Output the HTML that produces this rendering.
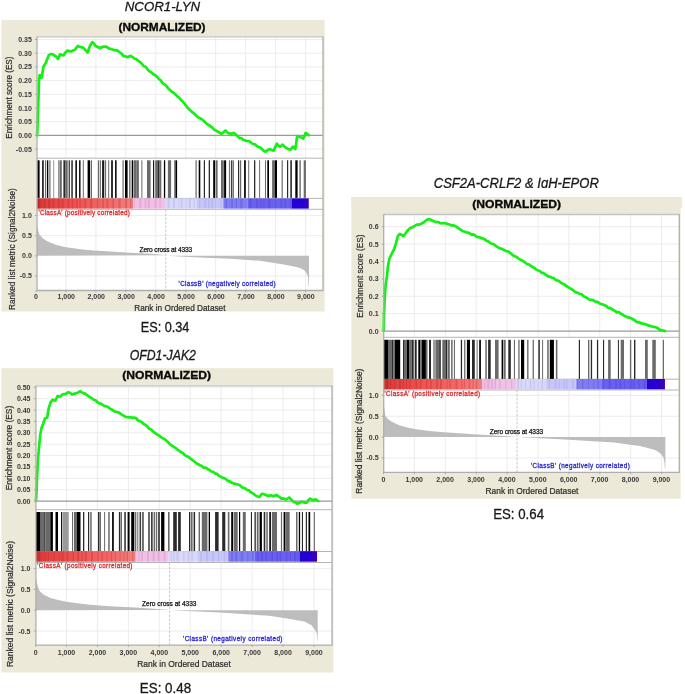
<!DOCTYPE html>
<html><head><meta charset="utf-8"><title>GSEA enrichment plots</title>
<style>
html,body{margin:0;padding:0;background:#fff;width:685px;height:694px;overflow:hidden}
svg{display:block;filter:blur(0.35px)}
</style></head><body>
<svg width="685" height="694" viewBox="0 0 685 694" font-family='"Liberation Sans", sans-serif'>
<defs><linearGradient id="redgrad" x1="0" x2="1" y1="0" y2="0"><stop offset="0" stop-color="#C8302C"/><stop offset="0.08" stop-color="#E0403E"/><stop offset="0.4" stop-color="#EE5452"/><stop offset="0.75" stop-color="#F26866"/><stop offset="1" stop-color="#F08080"/></linearGradient><clipPath id="tclip"><rect x="340" y="170" width="300" height="17.9"/></clipPath></defs>
<rect width="685" height="694" fill="#fff"/>
<rect x="1.5" y="20" width="323.1" height="291.5" fill="#ECE9D8"/>
<rect x="36.7" y="36.6" width="286.3" height="253.9" fill="#fff"/>
<path d="M36.7 149.1H323 M36.7 121.7H323 M36.7 108H323 M36.7 94.3H323 M36.7 80.6H323 M36.7 66.9H323 M36.7 53.2H323 M36.7 39.5H323 M36.7 215.6H323 M36.7 235.7H323 M36.7 275.9H323 M65.95 36.6V158.2 M65.95 209.3V290.5 M95.9 36.6V158.2 M95.9 209.3V290.5 M125.85 36.6V158.2 M125.85 209.3V290.5 M155.8 36.6V158.2 M155.8 209.3V290.5 M185.75 36.6V158.2 M185.75 209.3V290.5 M215.7 36.6V158.2 M215.7 209.3V290.5 M245.65 36.6V158.2 M245.65 209.3V290.5 M275.6 36.6V158.2 M275.6 209.3V290.5 M305.55 36.6V158.2 M305.55 209.3V290.5" stroke="#EAEAEA" stroke-width="0.9" fill="none"/>
<path d="M36.7 135.4H323" stroke="#9a9a9a" stroke-width="1.1"/>
<path d="M36.7 158.2H323 M36.7 198.4H323 M36.7 209.3H323" stroke="#b4b4b4" stroke-width="1"/>
<g><rect x="37.2" y="160.3" width="2.4" height="37.6" fill="#000"/><rect x="42.2" y="160.3" width="1.5" height="37.6" fill="#000"/><rect x="45" y="160.3" width="1.2" height="37.6" fill="#6a6a6a"/><rect x="47" y="160.3" width="1.3" height="37.6" fill="#000"/><rect x="49.3" y="160.3" width="1.2" height="37.6" fill="#6a6a6a"/><rect x="53.2" y="160.3" width="1" height="37.6" fill="#9a9a9a"/><rect x="58.3" y="160.3" width="1.2" height="37.6" fill="#6a6a6a"/><rect x="59.8" y="160.3" width="2" height="37.6" fill="#6a6a6a"/><rect x="63.4" y="160.3" width="2.1" height="37.6" fill="#2a2a2a"/><rect x="65.5" y="160.3" width="2.2" height="37.6" fill="#6a6a6a"/><rect x="68.7" y="160.3" width="1" height="37.6" fill="#000"/><rect x="71.3" y="160.3" width="1.5" height="37.6" fill="#2a2a2a"/><rect x="75.4" y="160.3" width="1.5" height="37.6" fill="#000"/><rect x="79.1" y="160.3" width="1.4" height="37.6" fill="#000"/><rect x="82.8" y="160.3" width="1" height="37.6" fill="#6a6a6a"/><rect x="87.6" y="160.3" width="2.6" height="37.6" fill="#000"/><rect x="91" y="160.3" width="1" height="37.6" fill="#6a6a6a"/><rect x="97.8" y="160.3" width="1.4" height="37.6" fill="#6a6a6a"/><rect x="99.9" y="160.3" width="1" height="37.6" fill="#6a6a6a"/><rect x="102.2" y="160.3" width="1.7" height="37.6" fill="#000"/><rect x="104.6" y="160.3" width="1.5" height="37.6" fill="#6a6a6a"/><rect x="108.2" y="160.3" width="1" height="37.6" fill="#6a6a6a"/><rect x="111.2" y="160.3" width="1.6" height="37.6" fill="#000"/><rect x="115.1" y="160.3" width="1.5" height="37.6" fill="#000"/><rect x="122.5" y="160.3" width="1.2" height="37.6" fill="#6a6a6a"/><rect x="125" y="160.3" width="2.6" height="37.6" fill="#000"/><rect x="129.1" y="160.3" width="1.4" height="37.6" fill="#6a6a6a"/><rect x="131.7" y="160.3" width="1.5" height="37.6" fill="#000"/><rect x="133.7" y="160.3" width="3.1" height="37.6" fill="#6a6a6a"/><rect x="137.3" y="160.3" width="1.3" height="37.6" fill="#2a2a2a"/><rect x="141.4" y="160.3" width="1" height="37.6" fill="#6a6a6a"/><rect x="147" y="160.3" width="3.6" height="37.6" fill="#6a6a6a"/><rect x="153.1" y="160.3" width="1.1" height="37.6" fill="#000"/><rect x="155.2" y="160.3" width="2.3" height="37.6" fill="#6a6a6a"/><rect x="157.5" y="160.3" width="2" height="37.6" fill="#2a2a2a"/><rect x="159.5" y="160.3" width="1.8" height="37.6" fill="#6a6a6a"/><rect x="163.9" y="160.3" width="1.3" height="37.6" fill="#000"/><rect x="167.9" y="160.3" width="3.2" height="37.6" fill="#6a6a6a"/><rect x="174.2" y="160.3" width="1" height="37.6" fill="#6a6a6a"/><rect x="175.4" y="160.3" width="1.7" height="37.6" fill="#000"/><rect x="195.5" y="160.3" width="1.2" height="37.6" fill="#6a6a6a"/><rect x="198.7" y="160.3" width="1.6" height="37.6" fill="#000"/><rect x="203.8" y="160.3" width="1.2" height="37.6" fill="#2a2a2a"/><rect x="208.7" y="160.3" width="1.3" height="37.6" fill="#2a2a2a"/><rect x="213.2" y="160.3" width="1.9" height="37.6" fill="#000"/><rect x="215.6" y="160.3" width="2" height="37.6" fill="#6a6a6a"/><rect x="221" y="160.3" width="2.8" height="37.6" fill="#6a6a6a"/><rect x="224.1" y="160.3" width="2" height="37.6" fill="#000"/><rect x="228.9" y="160.3" width="1" height="37.6" fill="#6a6a6a"/><rect x="230.9" y="160.3" width="1" height="37.6" fill="#2a2a2a"/><rect x="232.4" y="160.3" width="1.5" height="37.6" fill="#6a6a6a"/><rect x="238" y="160.3" width="1.2" height="37.6" fill="#2a2a2a"/><rect x="240" y="160.3" width="1.2" height="37.6" fill="#6a6a6a"/><rect x="244.1" y="160.3" width="1.7" height="37.6" fill="#000"/><rect x="248.2" y="160.3" width="1" height="37.6" fill="#6a6a6a"/><rect x="254" y="160.3" width="1.3" height="37.6" fill="#2a2a2a"/><rect x="259.1" y="160.3" width="1" height="37.6" fill="#6a6a6a"/><rect x="265" y="160.3" width="1" height="37.6" fill="#6a6a6a"/><rect x="267.3" y="160.3" width="1.7" height="37.6" fill="#000"/><rect x="272.1" y="160.3" width="2.9" height="37.6" fill="#6a6a6a"/><rect x="275" y="160.3" width="2" height="37.6" fill="#000"/><rect x="281.6" y="160.3" width="1.2" height="37.6" fill="#6a6a6a"/><rect x="287" y="160.3" width="1.2" height="37.6" fill="#2a2a2a"/><rect x="290.3" y="160.3" width="1.6" height="37.6" fill="#2a2a2a"/><rect x="295.3" y="160.3" width="2.3" height="37.6" fill="#000"/><rect x="299.4" y="160.3" width="1.4" height="37.6" fill="#6a6a6a"/><rect x="303.7" y="160.3" width="2.2" height="37.6" fill="#6a6a6a"/></g>
<rect x="37" y="198.4" width="96.05" height="10.2" fill="url(#redgrad)"/>
<rect x="133" y="198.4" width="32.05" height="10.2" fill="#F0C0E6"/>
<rect x="165" y="198.4" width="31.55" height="10.2" fill="#D8D8FA"/>
<rect x="196.5" y="198.4" width="26.85" height="10.2" fill="#C6C6F8"/>
<rect x="223.3" y="198.4" width="24.15" height="10.2" fill="#7E7EF2"/>
<rect x="247.4" y="198.4" width="44.15" height="10.2" fill="#6A60F0"/>
<rect x="291.5" y="198.4" width="13.55" height="10.2" fill="#2400D4"/>
<rect x="305" y="198.4" width="3.75" height="10.2" fill="#3A00BC"/>
<rect x="37.81" y="198.4" width="1.96" height="10.2" fill="rgba(150,10,10,0.2)"/><rect x="43.97" y="198.4" width="1.63" height="10.2" fill="rgba(150,10,10,0.2)"/><rect x="48.07" y="198.4" width="2.08" height="10.2" fill="rgba(150,10,10,0.2)"/><rect x="52.65" y="198.4" width="1.65" height="10.2" fill="rgba(150,10,10,0.2)"/><rect x="57.83" y="198.4" width="2.12" height="10.2" fill="rgba(150,10,10,0.2)"/><rect x="61.49" y="198.4" width="2.18" height="10.2" fill="rgba(150,10,10,0.2)"/><rect x="67.52" y="198.4" width="1.64" height="10.2" fill="rgba(150,10,10,0.2)"/><rect x="71.69" y="198.4" width="1.57" height="10.2" fill="rgba(150,10,10,0.2)"/><rect x="75.89" y="198.4" width="1.82" height="10.2" fill="rgba(150,10,10,0.2)"/><rect x="79.44" y="198.4" width="1.33" height="10.2" fill="rgba(150,10,10,0.2)"/><rect x="84.24" y="198.4" width="2.04" height="10.2" fill="rgba(150,10,10,0.2)"/><rect x="90.18" y="198.4" width="2.07" height="10.2" fill="rgba(150,10,10,0.2)"/><rect x="96.98" y="198.4" width="1.17" height="10.2" fill="rgba(150,10,10,0.2)"/><rect x="102.48" y="198.4" width="1.31" height="10.2" fill="rgba(150,10,10,0.2)"/><rect x="106.59" y="198.4" width="1.55" height="10.2" fill="rgba(150,10,10,0.2)"/><rect x="112.32" y="198.4" width="1.72" height="10.2" fill="rgba(150,10,10,0.2)"/><rect x="118.54" y="198.4" width="2.08" height="10.2" fill="rgba(150,10,10,0.2)"/><rect x="125.02" y="198.4" width="2.14" height="10.2" fill="rgba(150,10,10,0.2)"/><rect x="129.93" y="198.4" width="1.5" height="10.2" fill="rgba(150,10,10,0.2)"/><rect x="133.79" y="198.4" width="0.93" height="10.2" fill="rgba(190,60,140,0.18)"/><rect x="139.29" y="198.4" width="2.14" height="10.2" fill="rgba(190,60,140,0.18)"/><rect x="144.77" y="198.4" width="1.56" height="10.2" fill="rgba(190,60,140,0.18)"/><rect x="147.88" y="198.4" width="2.07" height="10.2" fill="rgba(190,60,140,0.18)"/><rect x="154.55" y="198.4" width="2.08" height="10.2" fill="rgba(190,60,140,0.18)"/><rect x="159.45" y="198.4" width="1.18" height="10.2" fill="rgba(190,60,140,0.18)"/><rect x="167.62" y="198.4" width="2.09" height="10.2" fill="rgba(90,90,200,0.14)"/><rect x="172.95" y="198.4" width="1.98" height="10.2" fill="rgba(90,90,200,0.14)"/><rect x="178.45" y="198.4" width="0.82" height="10.2" fill="rgba(90,90,200,0.14)"/><rect x="180.81" y="198.4" width="1.74" height="10.2" fill="rgba(90,90,200,0.14)"/><rect x="185.85" y="198.4" width="0.89" height="10.2" fill="rgba(90,90,200,0.14)"/><rect x="188.87" y="198.4" width="1.99" height="10.2" fill="rgba(90,90,200,0.14)"/><rect x="193.58" y="198.4" width="1.06" height="10.2" fill="rgba(90,90,200,0.14)"/><rect x="199.14" y="198.4" width="1.08" height="10.2" fill="rgba(90,90,200,0.14)"/><rect x="204.39" y="198.4" width="1.88" height="10.2" fill="rgba(90,90,200,0.14)"/><rect x="208.13" y="198.4" width="1.46" height="10.2" fill="rgba(90,90,200,0.14)"/><rect x="211.66" y="198.4" width="1.5" height="10.2" fill="rgba(90,90,200,0.14)"/><rect x="215.09" y="198.4" width="0.8" height="10.2" fill="rgba(90,90,200,0.14)"/><rect x="220.33" y="198.4" width="1.09" height="10.2" fill="rgba(90,90,200,0.14)"/><rect x="225.41" y="198.4" width="1.49" height="10.2" fill="rgba(40,20,190,0.18)"/><rect x="231.22" y="198.4" width="1.68" height="10.2" fill="rgba(40,20,190,0.18)"/><rect x="235.63" y="198.4" width="1.42" height="10.2" fill="rgba(40,20,190,0.18)"/><rect x="240.26" y="198.4" width="2.13" height="10.2" fill="rgba(40,20,190,0.18)"/><rect x="249.67" y="198.4" width="1.8" height="10.2" fill="rgba(40,20,190,0.18)"/><rect x="255.9" y="198.4" width="1.73" height="10.2" fill="rgba(40,20,190,0.18)"/><rect x="260.32" y="198.4" width="0.91" height="10.2" fill="rgba(40,20,190,0.18)"/><rect x="263.47" y="198.4" width="0.87" height="10.2" fill="rgba(40,20,190,0.18)"/><rect x="268.34" y="198.4" width="1.8" height="10.2" fill="rgba(40,20,190,0.18)"/><rect x="275.11" y="198.4" width="0.84" height="10.2" fill="rgba(40,20,190,0.18)"/><rect x="280.6" y="198.4" width="1.12" height="10.2" fill="rgba(40,20,190,0.18)"/><rect x="284.69" y="198.4" width="1.05" height="10.2" fill="rgba(40,20,190,0.18)"/><rect x="289.95" y="198.4" width="1" height="10.2" fill="rgba(40,20,190,0.18)"/>
<path d="M36.9 255.8 L36.9 225.5 L37.8 229 L39.3 234.3 L42.8 238.2 L47.1 241.3 L55.9 244.8 L64.7 247 L73.4 248.3 L82.2 249.6 L94 250.6 L110 251.6 L130 252.7 L150 253.8 L160 254.5 L166.4 255.3 Z" fill="#BDBDBD"/>
<path d="M166.4 255.8 L184.8 256.8 L200 257.5 L230 258.8 L260 260.8 L282 264.3 L292.8 266.2 L300 268 L304.3 270.2 L306.9 273.8 L308.1 277.4 L308.5 286 L309 286 L309 255.8 Z" fill="#BDBDBD"/>
<path d="M165.8 209.3V290.5" stroke="#B8B8B8" stroke-width="0.8" stroke-dasharray="2.5 1.5"/>
<path d="M37.2 135.4 L37.5 126.4 L38.4 99.3 L39 80.6 L39.7 75 L41.6 77.8 L43.5 66.5 L45.9 62.8 L48.7 55.3 L50.6 54 L52.45 54.4 L54.3 55.3 L56.2 56.66 L58.1 59 L60 54.3 L61.85 55.01 L63.7 55.3 L65.6 52.35 L67.5 50.6 L69.35 51.1 L71.2 51.5 L73.05 50.41 L74.9 49.7 L77.8 45.9 L80.6 47.2 L82.45 47.33 L84.3 48.7 L86 50.61 L87.7 52.5 L89.9 45.9 L92.2 42.2 L93.85 43.4 L95.5 45.9 L97.85 46.96 L100.2 48.2 L102.55 46.75 L104.9 46.5 L106.8 46.88 L108.7 48.4 L111 48.94 L113.3 49.7 L115.2 50.41 L117.1 50.2 L119.9 52.5 L121.75 53.82 L123.6 56.2 L125.5 56.31 L127.4 57.2 L130.6 55.8 L132.47 57.05 L134.33 58.56 L136.2 59 L138.1 60.67 L140 61.99 L141.9 63.7 L143.77 66.23 L145.63 66.8 L147.5 69.3 L149.37 71.37 L151.23 72.14 L153.1 74 L154.97 75.07 L156.83 76.6 L158.7 78.7 L160.57 80.3 L162.43 82.88 L164.3 84.3 L166.17 85.72 L168.03 88.15 L169.9 89.9 L171.8 91.66 L173.7 92.85 L175.6 94.6 L177.47 96.53 L179.33 97.72 L181.2 100.2 L183.07 101.78 L184.93 104.19 L186.8 106.8 L188.67 108.92 L190.53 110.43 L192.4 112.4 L194.27 113.71 L196.13 115.65 L198 117.1 L199.9 118.27 L201.8 119.29 L203.7 120.8 L205.57 122.78 L207.43 124.21 L209.3 125.5 L211.65 127.04 L214 129.3 L216.3 130.8 L218.6 132.1 L221.4 133.9 L223.4 132.24 L225.4 130.5 L227.45 132.63 L229.5 133.7 L231.5 133.62 L233.5 132.9 L235.5 134.2 L237.5 136.1 L239.37 138.01 L241.23 138.03 L243.1 139.8 L244.7 140.09 L246.3 140.96 L247.9 141 L249.77 141.58 L251.63 143.12 L253.5 144.2 L255.12 144.35 L256.75 146.04 L258.38 146.97 L260 147.4 L261.87 148.94 L263.73 150.79 L265.6 151.7 L267.6 150.09 L269.6 149 L271.6 150.07 L273.6 150.6 L276.8 143.7 L280 146.9 L282.4 144.6 L284.45 146.53 L286.5 148.2 L288.5 149.11 L290.5 149.8 L292.9 146.6 L295.3 149 L297.2 136.1 L300.1 136.9 L303.3 138.5 L305.7 132.9 L307.35 134.04 L309 135.3" stroke="#14F014" stroke-width="2.7" fill="none" stroke-linejoin="round" stroke-linecap="round"/>
<path d="M37 36.9H323" stroke="#C4C4C4" stroke-width="1.3"/>
<path d="M37 36.6V290.5H323V36.6" stroke="#AEAEAE" stroke-width="1.3" fill="none"/>
<path d="M34.9 149.1H36.7 M34.9 135.4H36.7 M34.9 121.7H36.7 M34.9 108H36.7 M34.9 94.3H36.7 M34.9 80.6H36.7 M34.9 66.9H36.7 M34.9 53.2H36.7 M34.9 39.5H36.7 M34.9 215.6H36.7 M34.9 235.7H36.7 M34.9 255.8H36.7 M34.9 275.9H36.7 M36 290.5V292.3 M65.95 290.5V292.3 M95.9 290.5V292.3 M125.85 290.5V292.3 M155.8 290.5V292.3 M185.75 290.5V292.3 M215.7 290.5V292.3 M245.65 290.5V292.3 M275.6 290.5V292.3 M305.55 290.5V292.3" stroke="#9a9a9a" stroke-width="0.8"/>
<g font-size="7" font-weight="bold" fill="#383838"><text x="31.8" y="151.6" text-anchor="end">-0.05</text><text x="31.8" y="137.9" text-anchor="end">0.00</text><text x="31.8" y="124.2" text-anchor="end">0.05</text><text x="31.8" y="110.5" text-anchor="end">0.10</text><text x="31.8" y="96.8" text-anchor="end">0.15</text><text x="31.8" y="83.1" text-anchor="end">0.20</text><text x="31.8" y="69.4" text-anchor="end">0.25</text><text x="31.8" y="55.7" text-anchor="end">0.30</text><text x="31.8" y="42" text-anchor="end">0.35</text><text x="31.8" y="218.1" text-anchor="end">1.0</text><text x="31.8" y="238.2" text-anchor="end">0.5</text><text x="31.8" y="258.3" text-anchor="end">0.0</text><text x="31.8" y="278.4" text-anchor="end">-0.5</text><text x="36" y="299.4" text-anchor="middle">0</text><text x="66.25" y="299.4" text-anchor="middle">1,000</text><text x="96.2" y="299.4" text-anchor="middle">2,000</text><text x="126.15" y="299.4" text-anchor="middle">3,000</text><text x="156.1" y="299.4" text-anchor="middle">4,000</text><text x="186.05" y="299.4" text-anchor="middle">5,000</text><text x="216" y="299.4" text-anchor="middle">6,000</text><text x="245.95" y="299.4" text-anchor="middle">7,000</text><text x="275.9" y="299.4" text-anchor="middle">8,000</text><text x="305.85" y="299.4" text-anchor="middle">9,000</text></g>
<text x="134.18" y="310.8" font-size="8.6" textLength="91.33" lengthAdjust="spacingAndGlyphs" fill="#2a2a2a" stroke="#2a2a2a" stroke-width="0.2">Rank in Ordered Dataset</text>
<text transform="translate(11.5 138.64) rotate(-90)" font-size="8.8" textLength="82.18" lengthAdjust="spacingAndGlyphs" fill="#2a2a2a" stroke="#2a2a2a" stroke-width="0.2">Enrichment score (ES)</text>
<text transform="translate(15.3 309.94) rotate(-90)" font-size="8.8" textLength="121.78" lengthAdjust="spacingAndGlyphs" fill="#2a2a2a" stroke="#2a2a2a" stroke-width="0.2">Ranked list metric (Signal2Noise)</text>
<text x="38.52" y="215" font-size="6.3" textLength="91.26" lengthAdjust="spacing" fill="#DA2C30" stroke="#DA2C30" stroke-width="0.3">'ClassA' (positively correlated)</text>
<text x="139.5" y="251.8" font-size="6.6" textLength="52.69" lengthAdjust="spacing" fill="#111" stroke="#111" stroke-width="0.25">Zero cross at 4333</text>
<text x="178.62" y="286.2" font-size="6.3" textLength="96.96" lengthAdjust="spacing" fill="#2A2AD0" stroke="#2A2AD0" stroke-width="0.3">'ClassB' (negatively correlated)</text>
<text x="118.5" y="31.2" font-size="11.6" textLength="87.09" lengthAdjust="spacingAndGlyphs" fill="#0a0a0a" font-weight="bold" stroke="#0a0a0a" stroke-width="0.35">(NORMALIZED)</text>
<text x="124.79" y="10.9" font-size="13.5" textLength="75.42" lengthAdjust="spacingAndGlyphs" fill="#1a1a1a" font-style="italic" stroke="#1a1a1a" stroke-width="0.3">NCOR1-LYN</text>
<text x="140.76" y="332.2" font-size="14" textLength="48.68" lengthAdjust="spacingAndGlyphs" fill="#1a1a1a" stroke="#1a1a1a" stroke-width="0.3">ES: 0.34</text>
<rect x="1.4" y="368.2" width="332" height="304.3" fill="#ECE9D8"/>
<rect x="35.6" y="385.6" width="296.4" height="259.6" fill="#fff"/>
<path d="M35.6 489.72H332 M35.6 478.34H332 M35.6 466.96H332 M35.6 455.58H332 M35.6 444.2H332 M35.6 432.82H332 M35.6 421.44H332 M35.6 410.06H332 M35.6 398.68H332 M35.6 387.3H332 M35.6 568.6H332 M35.6 589.4H332 M35.6 631H332 M66.53 385.6V509.7 M66.53 562.5V645.2 M97.46 385.6V509.7 M97.46 562.5V645.2 M128.39 385.6V509.7 M128.39 562.5V645.2 M159.32 385.6V509.7 M159.32 562.5V645.2 M190.25 385.6V509.7 M190.25 562.5V645.2 M221.18 385.6V509.7 M221.18 562.5V645.2 M252.11 385.6V509.7 M252.11 562.5V645.2 M283.04 385.6V509.7 M283.04 562.5V645.2 M313.97 385.6V509.7 M313.97 562.5V645.2" stroke="#EAEAEA" stroke-width="0.9" fill="none"/>
<path d="M35.6 501.1H332" stroke="#9a9a9a" stroke-width="1.1"/>
<path d="M35.6 509.7H332 M35.6 551.5H332 M35.6 562.5H332" stroke="#b4b4b4" stroke-width="1"/>
<g><rect x="36" y="512" width="4.6" height="39.2" fill="#000"/><rect x="40.6" y="512" width="3.6" height="39.2" fill="#6a6a6a"/><rect x="44.2" y="512" width="1" height="39.2" fill="#2a2a2a"/><rect x="45.2" y="512" width="5.1" height="39.2" fill="#6a6a6a"/><rect x="50.3" y="512" width="2.6" height="39.2" fill="#000"/><rect x="55.5" y="512" width="2.5" height="39.2" fill="#000"/><rect x="61.1" y="512" width="1" height="39.2" fill="#000"/><rect x="62.4" y="512" width="6.3" height="39.2" fill="#9a9a9a"/><rect x="72.3" y="512" width="0.7" height="39.2" fill="#2a2a2a"/><rect x="73.9" y="512" width="3" height="39.2" fill="#6a6a6a"/><rect x="76.9" y="512" width="3.6" height="39.2" fill="#000"/><rect x="83" y="512" width="1.3" height="39.2" fill="#2a2a2a"/><rect x="88" y="512" width="1.2" height="39.2" fill="#2a2a2a"/><rect x="90.2" y="512" width="1.5" height="39.2" fill="#6a6a6a"/><rect x="97.9" y="512" width="1.6" height="39.2" fill="#2a2a2a"/><rect x="100" y="512" width="1" height="39.2" fill="#6a6a6a"/><rect x="104.1" y="512" width="1" height="39.2" fill="#6a6a6a"/><rect x="108.2" y="512" width="1.5" height="39.2" fill="#6a6a6a"/><rect x="112.1" y="512" width="1.7" height="39.2" fill="#000"/><rect x="118.9" y="512" width="1.5" height="39.2" fill="#2a2a2a"/><rect x="120.9" y="512" width="1.1" height="39.2" fill="#6a6a6a"/><rect x="124.3" y="512" width="1.5" height="39.2" fill="#2a2a2a"/><rect x="127.6" y="512" width="2" height="39.2" fill="#000"/><rect x="131.2" y="512" width="3" height="39.2" fill="#000"/><rect x="134.7" y="512" width="1.6" height="39.2" fill="#6a6a6a"/><rect x="137.3" y="512" width="1" height="39.2" fill="#6a6a6a"/><rect x="139.6" y="512" width="1.3" height="39.2" fill="#2a2a2a"/><rect x="141.9" y="512" width="2" height="39.2" fill="#6a6a6a"/><rect x="148" y="512" width="2" height="39.2" fill="#6a6a6a"/><rect x="151.1" y="512" width="1.5" height="39.2" fill="#2a2a2a"/><rect x="153.6" y="512" width="1.6" height="39.2" fill="#6a6a6a"/><rect x="156" y="512" width="1.2" height="39.2" fill="#6a6a6a"/><rect x="158.2" y="512" width="1.6" height="39.2" fill="#2a2a2a"/><rect x="161.1" y="512" width="3.3" height="39.2" fill="#000"/><rect x="168" y="512" width="1.6" height="39.2" fill="#6a6a6a"/><rect x="173.2" y="512" width="3.6" height="39.2" fill="#2a2a2a"/><rect x="178.1" y="512" width="2.7" height="39.2" fill="#2a2a2a"/><rect x="189" y="512" width="1" height="39.2" fill="#2a2a2a"/><rect x="190.5" y="512" width="2.1" height="39.2" fill="#6a6a6a"/><rect x="193.6" y="512" width="1.5" height="39.2" fill="#2a2a2a"/><rect x="198.7" y="512" width="1" height="39.2" fill="#2a2a2a"/><rect x="201.8" y="512" width="5.6" height="39.2" fill="#6a6a6a"/><rect x="208.7" y="512" width="1.3" height="39.2" fill="#000"/><rect x="215.1" y="512" width="3.5" height="39.2" fill="#2a2a2a"/><rect x="222.2" y="512" width="3.1" height="39.2" fill="#2a2a2a"/><rect x="227.8" y="512" width="1.6" height="39.2" fill="#6a6a6a"/><rect x="231.2" y="512" width="1.8" height="39.2" fill="#000"/><rect x="233.6" y="512" width="4.1" height="39.2" fill="#6a6a6a"/><rect x="239" y="512" width="1.2" height="39.2" fill="#000"/><rect x="242.8" y="512" width="3" height="39.2" fill="#6a6a6a"/><rect x="250.9" y="512" width="1.1" height="39.2" fill="#2a2a2a"/><rect x="254.5" y="512" width="1.3" height="39.2" fill="#2a2a2a"/><rect x="256.8" y="512" width="1.8" height="39.2" fill="#6a6a6a"/><rect x="259.6" y="512" width="2.3" height="39.2" fill="#000"/><rect x="263.7" y="512" width="1.6" height="39.2" fill="#2a2a2a"/><rect x="266.3" y="512" width="1.5" height="39.2" fill="#6a6a6a"/><rect x="269.3" y="512" width="1.6" height="39.2" fill="#000"/><rect x="271.9" y="512" width="5.1" height="39.2" fill="#6a6a6a"/><rect x="280.9" y="512" width="1.2" height="39.2" fill="#6a6a6a"/><rect x="283.6" y="512" width="1.7" height="39.2" fill="#000"/><rect x="285.3" y="512" width="4.4" height="39.2" fill="#6a6a6a"/><rect x="296" y="512" width="1.5" height="39.2" fill="#6a6a6a"/><rect x="298.8" y="512" width="1.3" height="39.2" fill="#000"/><rect x="301.9" y="512" width="1.1" height="39.2" fill="#2a2a2a"/><rect x="305.8" y="512" width="1.2" height="39.2" fill="#2a2a2a"/><rect x="308.5" y="512" width="1.7" height="39.2" fill="#000"/><rect x="313.7" y="512" width="1.2" height="39.2" fill="#6a6a6a"/></g>
<rect x="36" y="551.2" width="99.75" height="10.5" fill="url(#redgrad)"/>
<rect x="135.7" y="551.2" width="32.95" height="10.5" fill="#F0C0E6"/>
<rect x="168.6" y="551.2" width="30.45" height="10.5" fill="#D8D8FA"/>
<rect x="199" y="551.2" width="29.25" height="10.5" fill="#C6C6F8"/>
<rect x="228.2" y="551.2" width="26.25" height="10.5" fill="#7E7EF2"/>
<rect x="254.4" y="551.2" width="45.15" height="10.5" fill="#6A60F0"/>
<rect x="299.5" y="551.2" width="12.55" height="10.5" fill="#2400D4"/>
<rect x="312" y="551.2" width="5.05" height="10.5" fill="#3A00BC"/>
<rect x="38.8" y="551.2" width="1.23" height="10.5" fill="rgba(150,10,10,0.2)"/><rect x="44.74" y="551.2" width="0.92" height="10.5" fill="rgba(150,10,10,0.2)"/><rect x="47.88" y="551.2" width="1" height="10.5" fill="rgba(150,10,10,0.2)"/><rect x="53.55" y="551.2" width="0.91" height="10.5" fill="rgba(150,10,10,0.2)"/><rect x="58.84" y="551.2" width="0.89" height="10.5" fill="rgba(150,10,10,0.2)"/><rect x="61.65" y="551.2" width="1.88" height="10.5" fill="rgba(150,10,10,0.2)"/><rect x="66.63" y="551.2" width="1.56" height="10.5" fill="rgba(150,10,10,0.2)"/><rect x="72.58" y="551.2" width="1.34" height="10.5" fill="rgba(150,10,10,0.2)"/><rect x="77.1" y="551.2" width="2.2" height="10.5" fill="rgba(150,10,10,0.2)"/><rect x="81.32" y="551.2" width="1.31" height="10.5" fill="rgba(150,10,10,0.2)"/><rect x="84.83" y="551.2" width="2.03" height="10.5" fill="rgba(150,10,10,0.2)"/><rect x="91" y="551.2" width="1.71" height="10.5" fill="rgba(150,10,10,0.2)"/><rect x="97.49" y="551.2" width="1.08" height="10.5" fill="rgba(150,10,10,0.2)"/><rect x="101.58" y="551.2" width="1.22" height="10.5" fill="rgba(150,10,10,0.2)"/><rect x="106.48" y="551.2" width="1.02" height="10.5" fill="rgba(150,10,10,0.2)"/><rect x="110.9" y="551.2" width="1.28" height="10.5" fill="rgba(150,10,10,0.2)"/><rect x="114.84" y="551.2" width="1.02" height="10.5" fill="rgba(150,10,10,0.2)"/><rect x="119.63" y="551.2" width="0.95" height="10.5" fill="rgba(150,10,10,0.2)"/><rect x="123.56" y="551.2" width="0.96" height="10.5" fill="rgba(150,10,10,0.2)"/><rect x="126.64" y="551.2" width="1.32" height="10.5" fill="rgba(150,10,10,0.2)"/><rect x="132.28" y="551.2" width="1.07" height="10.5" fill="rgba(150,10,10,0.2)"/><rect x="138.37" y="551.2" width="1.11" height="10.5" fill="rgba(190,60,140,0.18)"/><rect x="141.3" y="551.2" width="1.48" height="10.5" fill="rgba(190,60,140,0.18)"/><rect x="147.01" y="551.2" width="1.63" height="10.5" fill="rgba(190,60,140,0.18)"/><rect x="152.71" y="551.2" width="1.91" height="10.5" fill="rgba(190,60,140,0.18)"/><rect x="157.85" y="551.2" width="1.86" height="10.5" fill="rgba(190,60,140,0.18)"/><rect x="163.87" y="551.2" width="1.42" height="10.5" fill="rgba(190,60,140,0.18)"/><rect x="170.76" y="551.2" width="1" height="10.5" fill="rgba(90,90,200,0.14)"/><rect x="173.37" y="551.2" width="1.38" height="10.5" fill="rgba(90,90,200,0.14)"/><rect x="176.61" y="551.2" width="1.94" height="10.5" fill="rgba(90,90,200,0.14)"/><rect x="183.07" y="551.2" width="1.31" height="10.5" fill="rgba(90,90,200,0.14)"/><rect x="187.85" y="551.2" width="1.53" height="10.5" fill="rgba(90,90,200,0.14)"/><rect x="191.33" y="551.2" width="1.5" height="10.5" fill="rgba(90,90,200,0.14)"/><rect x="197.62" y="551.2" width="0.98" height="10.5" fill="rgba(90,90,200,0.14)"/><rect x="200.31" y="551.2" width="1.08" height="10.5" fill="rgba(90,90,200,0.14)"/><rect x="206.07" y="551.2" width="1.61" height="10.5" fill="rgba(90,90,200,0.14)"/><rect x="212.28" y="551.2" width="1.48" height="10.5" fill="rgba(90,90,200,0.14)"/><rect x="218.11" y="551.2" width="1.16" height="10.5" fill="rgba(90,90,200,0.14)"/><rect x="223.84" y="551.2" width="1.34" height="10.5" fill="rgba(90,90,200,0.14)"/><rect x="231.19" y="551.2" width="1.62" height="10.5" fill="rgba(40,20,190,0.18)"/><rect x="235.2" y="551.2" width="1.9" height="10.5" fill="rgba(40,20,190,0.18)"/><rect x="240.81" y="551.2" width="2.19" height="10.5" fill="rgba(40,20,190,0.18)"/><rect x="247.19" y="551.2" width="1.08" height="10.5" fill="rgba(40,20,190,0.18)"/><rect x="251.97" y="551.2" width="1.52" height="10.5" fill="rgba(40,20,190,0.18)"/><rect x="257.07" y="551.2" width="1.37" height="10.5" fill="rgba(40,20,190,0.18)"/><rect x="260.74" y="551.2" width="2.02" height="10.5" fill="rgba(40,20,190,0.18)"/><rect x="265.47" y="551.2" width="1.23" height="10.5" fill="rgba(40,20,190,0.18)"/><rect x="271.5" y="551.2" width="1.48" height="10.5" fill="rgba(40,20,190,0.18)"/><rect x="276.43" y="551.2" width="1.54" height="10.5" fill="rgba(40,20,190,0.18)"/><rect x="279.79" y="551.2" width="1.34" height="10.5" fill="rgba(40,20,190,0.18)"/><rect x="285.8" y="551.2" width="1.51" height="10.5" fill="rgba(40,20,190,0.18)"/><rect x="289.85" y="551.2" width="1.03" height="10.5" fill="rgba(40,20,190,0.18)"/><rect x="294.02" y="551.2" width="1.72" height="10.5" fill="rgba(40,20,190,0.18)"/><rect x="297.31" y="551.2" width="0.89" height="10.5" fill="rgba(40,20,190,0.18)"/>
<path d="M35.8 610.2 L35.8 577.9 L37.4 584.9 L39.6 591 L43.5 594.5 L50.5 598 L59.3 600.2 L68 602 L81.2 603.7 L93 604.9 L110 606.2 L135 607.6 L150 608.4 L169.9 610 Z" fill="#BDBDBD"/>
<path d="M169.9 610.2 L219.6 612.6 L269.3 615.8 L290 619.1 L304.4 621.6 L311.6 625.2 L315.2 630.3 L317 633.9 L317.4 641.4 L317.7 641.4 L317.7 610.2 Z" fill="#BDBDBD"/>
<path d="M169.6 562.5V645.2" stroke="#B8B8B8" stroke-width="0.8" stroke-dasharray="2.5 1.5"/>
<path d="M36 500.8 L36.6 490.5 L37.1 477.4 L37.9 460.5 L39 447.4 L40.3 434.3 L41.6 427.8 L43.1 424 L45 418.4 L47.2 417.5 L48.7 408.1 L50.6 402.5 L52.5 399.7 L55.3 400.6 L57.7 395.9 L60 396.9 L62.2 394.6 L63.9 394.05 L65.6 394 L68.4 392.2 L70.25 392.91 L72.1 394.6 L74.9 393.5 L77.8 392.7 L80.2 391.2 L81.8 392.36 L83.4 393.1 L85.7 393.9 L88 395.9 L89.9 397.22 L91.8 398.25 L93.7 399.7 L95.57 400.31 L97.43 402.18 L99.3 403.4 L101.17 403.69 L103.03 405.17 L104.9 406.2 L106.77 406.53 L108.63 407.49 L110.5 409 L112.37 409.83 L114.23 411.32 L116.1 411.8 L118 412.21 L119.9 413.28 L121.8 414.6 L123.67 415.61 L125.53 416.89 L127.4 417.1 L129.15 417.31 L130.9 417.16 L132.65 418.07 L134.4 417.5 L136.26 418.17 L138.12 420.6 L139.98 421.11 L141.84 422.2 L143.7 424 L145.58 424.96 L147.46 426.73 L149.34 428.94 L151.22 429.55 L153.1 431.5 L154.98 432.93 L156.86 434.33 L158.74 435.28 L160.62 436.85 L162.5 438.1 L164.38 438.99 L166.26 440.48 L168.14 442.19 L170.02 444.35 L171.9 445.6 L173.76 446.82 L175.62 447.98 L177.48 449.68 L179.34 450.81 L181.2 452.2 L183.08 453.22 L184.96 455.21 L186.84 456.38 L188.72 457.04 L190.6 458.7 L192.48 460.12 L194.36 461.38 L196.24 463.19 L198.12 464.3 L200 465.3 L201.86 465.94 L203.72 467.85 L205.58 467.59 L207.44 468.95 L209.3 470 L211.18 471.48 L213.06 471.75 L214.94 473.34 L216.82 473.83 L218.7 475.6 L220.8 476.8 L222.9 477.9 L225 478.5 L226.6 479.63 L228.2 481.08 L229.8 481.31 L231.4 482.6 L233.02 483.35 L234.64 483.69 L236.26 484.15 L237.88 484.46 L239.5 485 L241.1 486.48 L242.7 487.62 L244.3 487.96 L245.9 489 L247.5 490.23 L249.1 490.38 L250.7 492.28 L252.3 493 L254.1 494.21 L255.9 495.69 L257.7 496.45 L259.5 497 L261.9 493.8 L263.53 494.03 L265.17 494.71 L266.8 495.4 L268.93 495.9 L271.07 495.26 L273.2 496.2 L276.4 494.9 L278 496.08 L279.6 496.9 L281.2 498.6 L282.8 498.43 L284.4 498.72 L286 499.7 L289.2 497.5 L292.4 500.7 L294.03 502.14 L295.67 502.31 L297.3 503.9 L298.9 502.85 L300.5 502.35 L302.1 501.8 L304.5 502.72 L306.9 502.6 L308.5 500.01 L310.1 498.6 L313.3 500.2 L315.7 499.4 L318.1 501" stroke="#14F014" stroke-width="2.7" fill="none" stroke-linejoin="round" stroke-linecap="round"/>
<path d="M35.9 385.9H332" stroke="#C4C4C4" stroke-width="1.3"/>
<path d="M35.9 385.6V645.2H332V385.6" stroke="#AEAEAE" stroke-width="1.3" fill="none"/>
<path d="M33.8 501.1H35.6 M33.8 489.72H35.6 M33.8 478.34H35.6 M33.8 466.96H35.6 M33.8 455.58H35.6 M33.8 444.2H35.6 M33.8 432.82H35.6 M33.8 421.44H35.6 M33.8 410.06H35.6 M33.8 398.68H35.6 M33.8 387.3H35.6 M33.8 568.6H35.6 M33.8 589.4H35.6 M33.8 610.2H35.6 M33.8 631H35.6 M35.6 645.2V647 M66.53 645.2V647 M97.46 645.2V647 M128.39 645.2V647 M159.32 645.2V647 M190.25 645.2V647 M221.18 645.2V647 M252.11 645.2V647 M283.04 645.2V647 M313.97 645.2V647" stroke="#9a9a9a" stroke-width="0.8"/>
<g font-size="7" font-weight="bold" fill="#383838"><text x="30.5" y="503.6" text-anchor="end">0.00</text><text x="30.5" y="492.22" text-anchor="end">0.05</text><text x="30.5" y="480.84" text-anchor="end">0.10</text><text x="30.5" y="469.46" text-anchor="end">0.15</text><text x="30.5" y="458.08" text-anchor="end">0.20</text><text x="30.5" y="446.7" text-anchor="end">0.25</text><text x="30.5" y="435.32" text-anchor="end">0.30</text><text x="30.5" y="423.94" text-anchor="end">0.35</text><text x="30.5" y="412.56" text-anchor="end">0.40</text><text x="30.5" y="401.18" text-anchor="end">0.45</text><text x="30.5" y="389.8" text-anchor="end">0.50</text><text x="30.5" y="571.1" text-anchor="end">1.0</text><text x="30.5" y="591.9" text-anchor="end">0.5</text><text x="30.5" y="612.7" text-anchor="end">0.0</text><text x="30.5" y="633.5" text-anchor="end">-0.5</text><text x="35.6" y="655" text-anchor="middle">0</text><text x="66.53" y="655" text-anchor="middle">1,000</text><text x="97.46" y="655" text-anchor="middle">2,000</text><text x="128.39" y="655" text-anchor="middle">3,000</text><text x="159.32" y="655" text-anchor="middle">4,000</text><text x="190.25" y="655" text-anchor="middle">5,000</text><text x="221.18" y="655" text-anchor="middle">6,000</text><text x="252.11" y="655" text-anchor="middle">7,000</text><text x="283.04" y="655" text-anchor="middle">8,000</text><text x="313.97" y="655" text-anchor="middle">9,000</text></g>
<text x="137.18" y="667" font-size="8.6" textLength="93.73" lengthAdjust="spacingAndGlyphs" fill="#2a2a2a" stroke="#2a2a2a" stroke-width="0.2">Rank in Ordered Dataset</text>
<text transform="translate(11.8 490.24) rotate(-90)" font-size="8.8" textLength="84.48" lengthAdjust="spacingAndGlyphs" fill="#2a2a2a" stroke="#2a2a2a" stroke-width="0.2">Enrichment score (ES)</text>
<text transform="translate(13.4 667.04) rotate(-90)" font-size="8.8" textLength="126.08" lengthAdjust="spacingAndGlyphs" fill="#2a2a2a" stroke="#2a2a2a" stroke-width="0.2">Ranked list metric (Signal2Noise)</text>
<text x="37.22" y="568.4" font-size="6.3" textLength="95.26" lengthAdjust="spacing" fill="#DA2C30" stroke="#DA2C30" stroke-width="0.3">'ClassA' (positively correlated)</text>
<text x="142" y="606.4" font-size="6.6" textLength="54.49" lengthAdjust="spacing" fill="#111" stroke="#111" stroke-width="0.25">Zero cross at 4333</text>
<text x="183.02" y="641.2" font-size="6.3" textLength="99.46" lengthAdjust="spacing" fill="#2A2AD0" stroke="#2A2AD0" stroke-width="0.3">'ClassB' (negatively correlated)</text>
<text x="122.3" y="379.2" font-size="11.6" textLength="88.69" lengthAdjust="spacingAndGlyphs" fill="#0a0a0a" font-weight="bold" stroke="#0a0a0a" stroke-width="0.35">(NORMALIZED)</text>
<text x="129.67" y="359.8" font-size="13.8" textLength="66.26" lengthAdjust="spacingAndGlyphs" fill="#1a1a1a" font-style="italic" stroke="#1a1a1a" stroke-width="0.3">OFD1-JAK2</text>
<text x="139.82" y="692.6" font-size="14.6" textLength="51.25" lengthAdjust="spacingAndGlyphs" fill="#1a1a1a" stroke="#1a1a1a" stroke-width="0.3">ES: 0.48</text>
<rect x="351.4" y="197" width="329.2" height="301.7" fill="#ECE9D8"/>
<rect x="351.4" y="197" width="330.8" height="11" fill="#ECE9D8"/>
<rect x="383.4" y="214.2" width="295.9" height="258.1" fill="#fff"/>
<path d="M383.4 313.7H679.3 M383.4 296.3H679.3 M383.4 278.9H679.3 M383.4 261.5H679.3 M383.4 244.1H679.3 M383.4 226.7H679.3 M383.4 395.4H679.3 M383.4 416.25H679.3 M383.4 457.95H679.3 M414.4 214.2V337.3 M414.4 390V472.3 M445.3 214.2V337.3 M445.3 390V472.3 M476.2 214.2V337.3 M476.2 390V472.3 M507.1 214.2V337.3 M507.1 390V472.3 M538 214.2V337.3 M538 390V472.3 M568.9 214.2V337.3 M568.9 390V472.3 M599.8 214.2V337.3 M599.8 390V472.3 M630.7 214.2V337.3 M630.7 390V472.3 M661.6 214.2V337.3 M661.6 390V472.3" stroke="#EAEAEA" stroke-width="0.9" fill="none"/>
<path d="M383.4 331.1H679.3" stroke="#9a9a9a" stroke-width="1.1"/>
<path d="M383.4 337.3H679.3 M383.4 379.2H679.3 M383.4 390H679.3" stroke="#b4b4b4" stroke-width="1"/>
<g><rect x="384" y="339.8" width="4.6" height="39.1" fill="#000"/><rect x="388.6" y="339.8" width="3.6" height="39.1" fill="#6a6a6a"/><rect x="392.2" y="339.8" width="1" height="39.1" fill="#000"/><rect x="393.2" y="339.8" width="1.6" height="39.1" fill="#6a6a6a"/><rect x="394.8" y="339.8" width="5.4" height="39.1" fill="#000"/><rect x="403" y="339.8" width="1" height="39.1" fill="#2a2a2a"/><rect x="404" y="339.8" width="3" height="39.1" fill="#6a6a6a"/><rect x="407" y="339.8" width="2.1" height="39.1" fill="#000"/><rect x="409.1" y="339.8" width="2.5" height="39.1" fill="#6a6a6a"/><rect x="411.6" y="339.8" width="2.1" height="39.1" fill="#2a2a2a"/><rect x="414.7" y="339.8" width="2" height="39.1" fill="#2a2a2a"/><rect x="418.3" y="339.8" width="2" height="39.1" fill="#000"/><rect x="420.3" y="339.8" width="1.6" height="39.1" fill="#6a6a6a"/><rect x="421.9" y="339.8" width="4" height="39.1" fill="#000"/><rect x="425.9" y="339.8" width="1.6" height="39.1" fill="#6a6a6a"/><rect x="429" y="339.8" width="2" height="39.1" fill="#2a2a2a"/><rect x="433.1" y="339.8" width="2.5" height="39.1" fill="#9a9a9a"/><rect x="435.6" y="339.8" width="3.6" height="39.1" fill="#6a6a6a"/><rect x="439.2" y="339.8" width="1.6" height="39.1" fill="#2a2a2a"/><rect x="442.3" y="339.8" width="3.1" height="39.1" fill="#6a6a6a"/><rect x="445.4" y="339.8" width="2" height="39.1" fill="#2a2a2a"/><rect x="448" y="339.8" width="1.8" height="39.1" fill="#6a6a6a"/><rect x="451.1" y="339.8" width="1.5" height="39.1" fill="#6a6a6a"/><rect x="453.9" y="339.8" width="1.1" height="39.1" fill="#6a6a6a"/><rect x="460.8" y="339.8" width="1.3" height="39.1" fill="#2a2a2a"/><rect x="464.1" y="339.8" width="1.3" height="39.1" fill="#6a6a6a"/><rect x="466.9" y="339.8" width="3.1" height="39.1" fill="#000"/><rect x="472" y="339.8" width="2.8" height="39.1" fill="#2a2a2a"/><rect x="476.6" y="339.8" width="1" height="39.1" fill="#6a6a6a"/><rect x="479.2" y="339.8" width="1.7" height="39.1" fill="#000"/><rect x="485.3" y="339.8" width="1.5" height="39.1" fill="#6a6a6a"/><rect x="488.1" y="339.8" width="2.6" height="39.1" fill="#2a2a2a"/><rect x="495" y="339.8" width="3.6" height="39.1" fill="#6a6a6a"/><rect x="501.6" y="339.8" width="1.6" height="39.1" fill="#000"/><rect x="503.7" y="339.8" width="2" height="39.1" fill="#6a6a6a"/><rect x="508.3" y="339.8" width="2.5" height="39.1" fill="#2a2a2a"/><rect x="513.9" y="339.8" width="1.1" height="39.1" fill="#6a6a6a"/><rect x="518.3" y="339.8" width="1.3" height="39.1" fill="#6a6a6a"/><rect x="521" y="339.8" width="3.2" height="39.1" fill="#000"/><rect x="527.1" y="339.8" width="1.4" height="39.1" fill="#6a6a6a"/><rect x="532.6" y="339.8" width="1.3" height="39.1" fill="#6a6a6a"/><rect x="538.3" y="339.8" width="1.5" height="39.1" fill="#2a2a2a"/><rect x="542.1" y="339.8" width="1" height="39.1" fill="#6a6a6a"/><rect x="547.2" y="339.8" width="1.5" height="39.1" fill="#6a6a6a"/><rect x="549.8" y="339.8" width="4.1" height="39.1" fill="#000"/><rect x="555.9" y="339.8" width="1.5" height="39.1" fill="#6a6a6a"/><rect x="578.8" y="339.8" width="1.2" height="39.1" fill="#2a2a2a"/><rect x="588" y="339.8" width="1.4" height="39.1" fill="#6a6a6a"/><rect x="590.8" y="339.8" width="1.3" height="39.1" fill="#2a2a2a"/><rect x="596.9" y="339.8" width="1.3" height="39.1" fill="#2a2a2a"/><rect x="603" y="339.8" width="1.1" height="39.1" fill="#2a2a2a"/><rect x="608.1" y="339.8" width="2.6" height="39.1" fill="#6a6a6a"/><rect x="617.9" y="339.8" width="1" height="39.1" fill="#2a2a2a"/><rect x="620.7" y="339.8" width="3.3" height="39.1" fill="#6a6a6a"/><rect x="629.9" y="339.8" width="1.4" height="39.1" fill="#6a6a6a"/><rect x="634" y="339.8" width="1.4" height="39.1" fill="#2a2a2a"/><rect x="645" y="339.8" width="2.8" height="39.1" fill="#6a6a6a"/><rect x="652.3" y="339.8" width="3.5" height="39.1" fill="#6a6a6a"/><rect x="662.7" y="339.8" width="1.3" height="39.1" fill="#6a6a6a"/></g>
<rect x="384" y="379" width="98.05" height="10.3" fill="url(#redgrad)"/>
<rect x="482" y="379" width="34.55" height="10.3" fill="#F0C0E6"/>
<rect x="516.5" y="379" width="31.55" height="10.3" fill="#D8D8FA"/>
<rect x="548" y="379" width="28.35" height="10.3" fill="#C6C6F8"/>
<rect x="576.3" y="379" width="25.65" height="10.3" fill="#7E7EF2"/>
<rect x="601.9" y="379" width="45.15" height="10.3" fill="#6A60F0"/>
<rect x="647" y="379" width="13.05" height="10.3" fill="#2400D4"/>
<rect x="660" y="379" width="4.95" height="10.3" fill="#3A00BC"/>
<rect x="386.33" y="379" width="1.81" height="10.3" fill="rgba(150,10,10,0.2)"/><rect x="390.21" y="379" width="0.92" height="10.3" fill="rgba(150,10,10,0.2)"/><rect x="393.77" y="379" width="1.45" height="10.3" fill="rgba(150,10,10,0.2)"/><rect x="399.08" y="379" width="1.83" height="10.3" fill="rgba(150,10,10,0.2)"/><rect x="402.62" y="379" width="1.44" height="10.3" fill="rgba(150,10,10,0.2)"/><rect x="405.89" y="379" width="1.36" height="10.3" fill="rgba(150,10,10,0.2)"/><rect x="408.95" y="379" width="1.77" height="10.3" fill="rgba(150,10,10,0.2)"/><rect x="415.31" y="379" width="2.03" height="10.3" fill="rgba(150,10,10,0.2)"/><rect x="419.97" y="379" width="1.39" height="10.3" fill="rgba(150,10,10,0.2)"/><rect x="426.04" y="379" width="1.34" height="10.3" fill="rgba(150,10,10,0.2)"/><rect x="429.99" y="379" width="1.62" height="10.3" fill="rgba(150,10,10,0.2)"/><rect x="436.13" y="379" width="2.07" height="10.3" fill="rgba(150,10,10,0.2)"/><rect x="439.99" y="379" width="2.02" height="10.3" fill="rgba(150,10,10,0.2)"/><rect x="446.73" y="379" width="0.82" height="10.3" fill="rgba(150,10,10,0.2)"/><rect x="449.47" y="379" width="1.25" height="10.3" fill="rgba(150,10,10,0.2)"/><rect x="455.57" y="379" width="1.75" height="10.3" fill="rgba(150,10,10,0.2)"/><rect x="461.4" y="379" width="0.97" height="10.3" fill="rgba(150,10,10,0.2)"/><rect x="464.13" y="379" width="0.87" height="10.3" fill="rgba(150,10,10,0.2)"/><rect x="468.76" y="379" width="1.5" height="10.3" fill="rgba(150,10,10,0.2)"/><rect x="472.47" y="379" width="1.1" height="10.3" fill="rgba(150,10,10,0.2)"/><rect x="475.87" y="379" width="1.64" height="10.3" fill="rgba(150,10,10,0.2)"/><rect x="484.28" y="379" width="1.18" height="10.3" fill="rgba(190,60,140,0.18)"/><rect x="487.31" y="379" width="2.1" height="10.3" fill="rgba(190,60,140,0.18)"/><rect x="491.08" y="379" width="1.66" height="10.3" fill="rgba(190,60,140,0.18)"/><rect x="494.61" y="379" width="1.35" height="10.3" fill="rgba(190,60,140,0.18)"/><rect x="499.1" y="379" width="1.28" height="10.3" fill="rgba(190,60,140,0.18)"/><rect x="505.34" y="379" width="0.81" height="10.3" fill="rgba(190,60,140,0.18)"/><rect x="511.13" y="379" width="1.09" height="10.3" fill="rgba(190,60,140,0.18)"/><rect x="517.02" y="379" width="1.85" height="10.3" fill="rgba(90,90,200,0.14)"/><rect x="520.88" y="379" width="1.05" height="10.3" fill="rgba(90,90,200,0.14)"/><rect x="525.09" y="379" width="0.9" height="10.3" fill="rgba(90,90,200,0.14)"/><rect x="529.84" y="379" width="1.41" height="10.3" fill="rgba(90,90,200,0.14)"/><rect x="533.53" y="379" width="0.96" height="10.3" fill="rgba(90,90,200,0.14)"/><rect x="537.69" y="379" width="0.94" height="10.3" fill="rgba(90,90,200,0.14)"/><rect x="541.62" y="379" width="1.4" height="10.3" fill="rgba(90,90,200,0.14)"/><rect x="546.44" y="379" width="1.56" height="10.3" fill="rgba(90,90,200,0.14)"/><rect x="548.86" y="379" width="1.13" height="10.3" fill="rgba(90,90,200,0.14)"/><rect x="554.89" y="379" width="1.46" height="10.3" fill="rgba(90,90,200,0.14)"/><rect x="558.86" y="379" width="0.87" height="10.3" fill="rgba(90,90,200,0.14)"/><rect x="563.48" y="379" width="1.13" height="10.3" fill="rgba(90,90,200,0.14)"/><rect x="566.22" y="379" width="1.19" height="10.3" fill="rgba(90,90,200,0.14)"/><rect x="572.4" y="379" width="1.53" height="10.3" fill="rgba(90,90,200,0.14)"/><rect x="576.86" y="379" width="0.92" height="10.3" fill="rgba(40,20,190,0.18)"/><rect x="582.03" y="379" width="1.32" height="10.3" fill="rgba(40,20,190,0.18)"/><rect x="587.95" y="379" width="0.9" height="10.3" fill="rgba(40,20,190,0.18)"/><rect x="593.49" y="379" width="0.95" height="10.3" fill="rgba(40,20,190,0.18)"/><rect x="597.36" y="379" width="1.73" height="10.3" fill="rgba(40,20,190,0.18)"/><rect x="603" y="379" width="0.99" height="10.3" fill="rgba(40,20,190,0.18)"/><rect x="608.63" y="379" width="2.18" height="10.3" fill="rgba(40,20,190,0.18)"/><rect x="615.15" y="379" width="1.51" height="10.3" fill="rgba(40,20,190,0.18)"/><rect x="619.54" y="379" width="1.67" height="10.3" fill="rgba(40,20,190,0.18)"/><rect x="624.22" y="379" width="0.87" height="10.3" fill="rgba(40,20,190,0.18)"/><rect x="629.92" y="379" width="1.63" height="10.3" fill="rgba(40,20,190,0.18)"/><rect x="633.15" y="379" width="1.36" height="10.3" fill="rgba(40,20,190,0.18)"/><rect x="638.29" y="379" width="1.35" height="10.3" fill="rgba(40,20,190,0.18)"/><rect x="643.83" y="379" width="1.96" height="10.3" fill="rgba(40,20,190,0.18)"/>
<path d="M384 437.1 L384 405.5 L384.6 411 L385.4 415.8 L387.6 418.8 L391.5 421.5 L398.5 425 L407.3 427.6 L416 429.3 L429.2 431.1 L441 432 L455 433 L473.4 434.2 L500 435.8 L517 436.9 Z" fill="#BDBDBD"/>
<path d="M517 437.1 L564.6 439.6 L614.3 442.6 L630 444.8 L639.9 446.1 L649.7 448.4 L656.3 450.4 L660.9 453.7 L663.5 457.6 L664.5 462.9 L664.9 468.4 L665.4 468.4 L665.4 437.1 Z" fill="#BDBDBD"/>
<path d="M517 390V472.3" stroke="#B8B8B8" stroke-width="0.8" stroke-dasharray="2.5 1.5"/>
<path d="M383.7 330.7 L384.1 313 L384.7 299.9 L385.6 284.9 L387.1 275.5 L387.9 266.2 L389.4 258.7 L391.6 254 L394 249.3 L395.9 243.7 L397.8 236.2 L399.7 234 L401.55 234.85 L403.4 236.2 L406.2 232.5 L408.1 229.91 L410 228.3 L412.3 227.31 L414.6 225.9 L416.95 224.65 L419.3 224.6 L421.65 223.45 L424 222.2 L425.85 220.61 L427.7 219.4 L429.6 219.23 L431.5 220.3 L433.85 221.26 L436.2 222.2 L438.07 221.99 L439.93 222.97 L441.8 223.5 L443.67 223.06 L445.53 223.26 L447.4 224 L449.27 224.36 L451.13 225.39 L453 225.4 L454.87 225.84 L456.73 226.95 L458.6 228.3 L460.47 229.55 L462.33 231.06 L464.2 231.5 L466.1 232.24 L468 232.62 L469.9 233.4 L471.77 234.87 L473.63 234.37 L475.5 235.8 L477.37 237.07 L479.23 237.04 L481.1 238.1 L482.97 238.54 L484.83 239.43 L486.7 240.9 L488.57 241.57 L490.43 243.21 L492.3 243.7 L494.23 244.43 L496.15 246.16 L498.07 247.42 L500 248.4 L502.1 248.97 L504.2 249.9 L505.99 251.04 L507.77 251.44 L509.56 252.51 L511.35 253.79 L513.14 255.53 L514.92 256.25 L516.71 257.16 L518.5 258.5 L520.27 259.68 L522.05 260.56 L523.83 261.41 L525.6 263.16 L527.38 264.09 L529.15 264.52 L530.93 266.04 L532.7 267 L534.48 268.1 L536.25 269.65 L538.02 270.51 L539.8 270.95 L541.58 272.98 L543.35 272.84 L545.12 274.32 L546.9 275.5 L548.53 276.6 L550.16 276.5 L551.79 277.71 L553.41 277.83 L555.04 279.45 L556.67 280.33 L558.3 280.7 L560.09 281.94 L561.88 283.5 L563.66 283.85 L565.45 285.52 L567.24 286.52 L569.02 287.64 L570.81 288.6 L572.6 289.8 L574.38 291.26 L576.15 292.4 L577.92 292.73 L579.7 293.98 L581.48 294.12 L583.25 296.01 L585.02 296.92 L586.8 297.7 L588.57 299.18 L590.35 299.73 L592.12 299.76 L593.9 300.69 L595.67 301.87 L597.45 301.76 L599.23 303.16 L601 304 L602.77 304.42 L604.55 305.24 L606.33 306.05 L608.1 307.93 L609.88 307.92 L611.65 308.97 L613.43 310.06 L615.2 311.1 L616.99 312.44 L618.78 312.16 L620.56 313.5 L622.35 314.47 L624.14 315.76 L625.92 316.5 L627.71 317.38 L629.5 317.7 L631.13 318.2 L632.76 319.21 L634.39 319.95 L636.01 321.5 L637.64 322.41 L639.27 322.1 L640.9 323.4 L642.67 323.45 L644.45 324.02 L646.23 324.53 L648 325.4 L649.9 325.85 L651.8 326.46 L653.7 326.8 L655.48 327.32 L657.25 327.81 L659.02 329.24 L660.8 330.2 L662.95 330.47 L665.1 331.1" stroke="#14F014" stroke-width="2.7" fill="none" stroke-linejoin="round" stroke-linecap="round"/>
<path d="M383.7 214.5H679.3" stroke="#C4C4C4" stroke-width="1.3"/>
<path d="M383.7 214.2V472.3H679.3V214.2" stroke="#AEAEAE" stroke-width="1.3" fill="none"/>
<path d="M381.6 331.1H383.4 M381.6 313.7H383.4 M381.6 296.3H383.4 M381.6 278.9H383.4 M381.6 261.5H383.4 M381.6 244.1H383.4 M381.6 226.7H383.4 M381.6 395.4H383.4 M381.6 416.25H383.4 M381.6 437.1H383.4 M381.6 457.95H383.4 M383.5 472.3V474.1 M414.4 472.3V474.1 M445.3 472.3V474.1 M476.2 472.3V474.1 M507.1 472.3V474.1 M538 472.3V474.1 M568.9 472.3V474.1 M599.8 472.3V474.1 M630.7 472.3V474.1 M661.6 472.3V474.1" stroke="#9a9a9a" stroke-width="0.8"/>
<g font-size="7" font-weight="bold" fill="#383838"><text x="378.6" y="333.6" text-anchor="end">0.0</text><text x="378.6" y="316.2" text-anchor="end">0.1</text><text x="378.6" y="298.8" text-anchor="end">0.2</text><text x="378.6" y="281.4" text-anchor="end">0.3</text><text x="378.6" y="264" text-anchor="end">0.4</text><text x="378.6" y="246.6" text-anchor="end">0.5</text><text x="378.6" y="229.2" text-anchor="end">0.6</text><text x="378.6" y="397.9" text-anchor="end">1.0</text><text x="378.6" y="418.75" text-anchor="end">0.5</text><text x="378.6" y="439.6" text-anchor="end">0.0</text><text x="378.6" y="460.45" text-anchor="end">-0.5</text><text x="383.5" y="481.9" text-anchor="middle">0</text><text x="414.2" y="481.9" text-anchor="middle">1,000</text><text x="445.1" y="481.9" text-anchor="middle">2,000</text><text x="476" y="481.9" text-anchor="middle">3,000</text><text x="506.9" y="481.9" text-anchor="middle">4,000</text><text x="537.8" y="481.9" text-anchor="middle">5,000</text><text x="568.7" y="481.9" text-anchor="middle">6,000</text><text x="599.6" y="481.9" text-anchor="middle">7,000</text><text x="630.5" y="481.9" text-anchor="middle">8,000</text><text x="661.4" y="481.9" text-anchor="middle">9,000</text></g>
<text x="485.48" y="494.2" font-size="8.6" textLength="92.93" lengthAdjust="spacingAndGlyphs" fill="#2a2a2a" stroke="#2a2a2a" stroke-width="0.2">Rank in Ordered Dataset</text>
<text transform="translate(363.3 317.64) rotate(-90)" font-size="8.8" textLength="83.18" lengthAdjust="spacingAndGlyphs" fill="#2a2a2a" stroke="#2a2a2a" stroke-width="0.2">Enrichment score (ES)</text>
<text transform="translate(361.7 493.64) rotate(-90)" font-size="8.8" textLength="125.08" lengthAdjust="spacingAndGlyphs" fill="#2a2a2a" stroke="#2a2a2a" stroke-width="0.2">Ranked list metric (Signal2Noise)</text>
<text x="384.42" y="395.7" font-size="6.3" textLength="95.76" lengthAdjust="spacing" fill="#DA2C30" stroke="#DA2C30" stroke-width="0.3">'ClassA' (positively correlated)</text>
<text x="489.8" y="433.7" font-size="6.6" textLength="53.39" lengthAdjust="spacing" fill="#111" stroke="#111" stroke-width="0.25">Zero cross at 4333</text>
<text x="531.02" y="468.2" font-size="6.3" textLength="98.76" lengthAdjust="spacing" fill="#2A2AD0" stroke="#2A2AD0" stroke-width="0.3">'ClassB' (negatively correlated)</text>
<text x="472.3" y="207.9" font-size="11.6" textLength="88.69" lengthAdjust="spacingAndGlyphs" fill="#0a0a0a" font-weight="bold" stroke="#0a0a0a" stroke-width="0.35">(NORMALIZED)</text>
<text x="433.75" y="187.5" font-size="14.2" textLength="165.1" lengthAdjust="spacingAndGlyphs" fill="#1a1a1a" font-style="italic" stroke="#1a1a1a" stroke-width="0.3" clip-path="url(#tclip)">CSF2A-CRLF2 &amp; IgH-EPOR</text>
<text x="493.16" y="519.2" font-size="14" textLength="50.88" lengthAdjust="spacingAndGlyphs" fill="#1a1a1a" stroke="#1a1a1a" stroke-width="0.3">ES: 0.64</text>
</svg>
</body></html>
